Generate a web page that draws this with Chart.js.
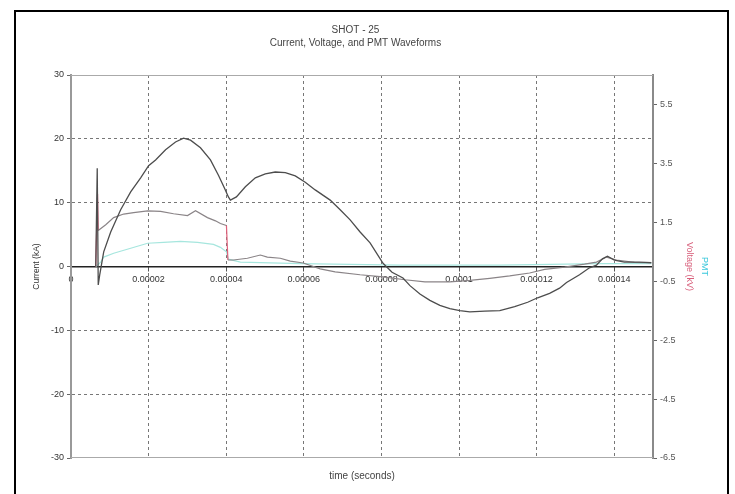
<!DOCTYPE html>
<html>
<head>
<meta charset="utf-8">
<script src="https://cdn.jsdelivr.net/npm/chart.js@4/dist/chart.umd.min.js"></script>
<style>
  html, body { margin: 0; padding: 0; background: #fff; }
  #wrap { width: 735px; height: 494px; position: relative; }
</style>
</head>
<body>
<div id="wrap"><canvas id="chart"></canvas></div>
<script>
// times are read in microseconds, converted to seconds below
const currentTime = [6.38, 6.76, 7.02, 7.40, 8.43, 10.23, 12.80, 15.38, 17.95, 20.00, 21.80, 24.37, 26.94, 29.00, 30.80, 33.37, 35.94, 38.00, 39.54, 40.57, 41.08, 42.63, 44.94, 47.51, 50.08, 52.65, 55.23, 57.80, 60.37, 62.94, 66.80, 69.37, 71.94, 74.51, 77.08, 80.42, 82.74, 85.56, 87.36, 89.93, 92.50, 95.07, 97.64, 100.21, 102.78, 106.64, 110.50, 114.35, 117.70, 120.27, 123.35, 125.92, 127.72, 131.06, 133.63, 135.43, 136.97, 138.26, 140.06, 142.63, 146.48, 149.57];
const currentKA = [0, 15.4, -2.9, -1.3, 2.3, 5.4, 8.9, 11.7, 13.9, 15.8, 16.7, 18.3, 19.5, 20.1, 19.8, 18.6, 16.7, 14.3, 12.3, 10.9, 10.4, 10.9, 12.5, 13.9, 14.5, 14.8, 14.7, 14.2, 13.2, 12.0, 10.4, 8.9, 7.3, 5.4, 3.7, 0.5, -0.9, -1.8, -3.0, -4.3, -5.3, -6.1, -6.6, -6.9, -7.1, -7.0, -6.9, -6.3, -5.6, -4.9, -4.2, -3.4, -2.5, -1.3, -0.2, 0.2, 1.2, 1.6, 1.0, 0.7, 0.7, 0.6];

const voltageTime = [6.38, 6.84, 7.02, 8.95, 11.00, 13.57, 16.14, 19.75, 23.09, 26.43, 30.03, 32.09, 35.17, 37.23, 38.51, 40.06, 40.44, 41.86, 45.46, 48.80, 50.60, 53.94, 56.51, 59.85, 64.22, 68.08, 74.51, 80.42, 86.08, 91.22, 97.64, 102.78, 107.92, 113.07, 118.21, 122.07, 127.21, 132.35, 135.43, 138.00, 140.57, 145.20, 149.57];
const voltageKV = [0, 2.46, 1.22, 1.42, 1.66, 1.78, 1.83, 1.89, 1.87, 1.79, 1.73, 1.89, 1.66, 1.55, 1.46, 1.39, 0.22, 0.22, 0.28, 0.39, 0.32, 0.28, 0.18, 0.12, -0.08, -0.18, -0.28, -0.35, -0.45, -0.52, -0.52, -0.47, -0.40, -0.32, -0.22, -0.10, -0.02, 0.08, 0.15, 0.32, 0.22, 0.14, 0.12];

const pmtTime = [6.38, 7.66, 8.43, 11.00, 15.38, 19.75, 23.86, 28.23, 32.60, 36.71, 38.51, 40.06, 40.57, 43.65, 59.07, 84.79, 110.50, 136.20, 149.57];
const pmtV = [0, 0.15, 0.32, 0.45, 0.62, 0.79, 0.82, 0.85, 0.82, 0.75, 0.65, 0.50, 0.25, 0.15, 0.10, 0.05, 0.05, 0.10, 0.10];

const xTicks = [0, 0.00002, 0.00004, 0.00006, 0.00008, 0.0001, 0.00012, 0.00014];
const rightTicks = [-6.5, -4.5, -2.5, -0.5, 1.5, 3.5, 5.5];

const fontFam = "'Liberation Sans', Arial, sans-serif";

function toPoints(times, values) {
  return times.map((t, i) => ({ x: t * 1e-6, y: values[i] }));
}

// outer frame and plot-area box
const framePlugin = {
  id: "frame",
  beforeDatasetsDraw(chart) {
    const { ctx, chartArea: a } = chart;
    ctx.save();
    ctx.strokeStyle = "#aaa";
    ctx.lineWidth = 1;
    ctx.beginPath();
    ctx.moveTo(a.left, a.top + 0.5);
    ctx.lineTo(a.right, a.top + 0.5);
    ctx.moveTo(a.left, a.bottom - 0.5);
    ctx.lineTo(a.right, a.bottom - 0.5);
    ctx.stroke();
    ctx.restore();
  },
  afterDraw(chart) {
    const ctx = chart.ctx;
    ctx.save();
    ctx.strokeStyle = "#000";
    ctx.lineWidth = 2;
    ctx.strokeRect(15, 11, 713, 500);
    ctx.restore();
  },
};

new Chart(document.getElementById("chart"), {
  type: "scatter",
  data: {
    datasets: [
      {
        label: "Current",
        data: toPoints(currentTime, currentKA),
        showLine: true,
        borderColor: "#4d4d4d",
        borderWidth: 1.3,
        pointRadius: 0,
        yAxisID: "y",
      },
      {
        label: "Voltage",
        data: toPoints(voltageTime, voltageKV),
        showLine: true,
        borderColor: "#8a8487",
        borderWidth: 1.2,
        pointRadius: 0,
        yAxisID: "y1",
        segment: {
          borderColor: (c) =>
            Math.abs(c.p1.y - c.p0.y) > 3 * Math.abs(c.p1.x - c.p0.x) + 8 ? "#e0607a" : undefined,
        },
      },
      {
        label: "PMT",
        data: toPoints(pmtTime, pmtV),
        showLine: true,
        borderColor: "#a6e6de",
        borderWidth: 1.2,
        pointRadius: 0,
        yAxisID: "y1",
      },
    ],
  },
  options: {
    responsive: true,
    maintainAspectRatio: false,
    animation: false,
    layout: { padding: { left: 0, right: 24, top: 0, bottom: 0 } },
    plugins: {
      legend: { display: false },
      tooltip: { enabled: false },
      title: {
        display: true,
        text: ["SHOT - 25", "Current, Voltage, and PMT Waveforms"],
        color: "#444",
        font: { family: fontFam, size: 10, weight: "normal", lineHeight: 1.3 },
        padding: { top: 23.5, bottom: 25.5 },
      },
    },
    scales: {
      x: {
        type: "linear",
        position: { y: 0 },
        min: 0,
        max: 0.00015,
        afterBuildTicks: (s) => { s.ticks = xTicks.map((v) => ({ value: v })); },
        ticks: {
          color: "#333",
          font: { family: fontFam, size: 9 },
          padding: 4,
          maxRotation: 0,
          callback: (v) => String(parseFloat(Number(v).toFixed(6))),
        },
        grid: {
          color: (c) => (c.tick && c.tick.value === 0 ? "rgba(0,0,0,0)" : "#777"),
          tickLength: 4,
          tickColor: "#555",
        },
        border: { color: "#222", width: 1.5, dash: [3, 3] },
      },
      x2: {
        type: "linear",
        position: "bottom",
        min: 0,
        max: 1,
        ticks: { display: false },
        grid: { display: false },
        border: { display: false },
        title: {
          display: true,
          text: "time (seconds)",
          color: "#444",
          font: { family: fontFam, size: 10 },
          padding: { top: 0, bottom: 12 },
        },
        afterFit: (s) => { s.height = 36; },
      },
      y: {
        type: "linear",
        position: "left",
        min: -30,
        max: 30,
        ticks: {
          stepSize: 10,
          color: "#333",
          font: { family: fontFam, size: 9 },
          padding: 3,
        },
        grid: {
          color: (c) =>
            c.tick && (c.tick.value === 0 || Math.abs(c.tick.value) === 30) ? "rgba(0,0,0,0)" : "#777",
          tickLength: 4,
          tickColor: "#666",
        },
        border: { color: "#999", width: 2, dash: [3, 3] },
        title: {
          display: true,
          text: "Current (kA)",
          color: "#333",
          font: { family: fontFam, size: 8.5 },
          padding: { top: 32, bottom: 0 },
        },
        afterFit: (s) => { s.width = 71; },
      },
      y1: {
        type: "linear",
        position: "right",
        min: -6.5,
        max: 6.5,
        afterBuildTicks: (s) => { s.ticks = rightTicks.map((v) => ({ value: v })); },
        ticks: {
          color: "#555",
          font: { family: fontFam, size: 9 },
          padding: 3,
          callback: (v) => Number(v).toFixed(1),
        },
        grid: { drawOnChartArea: false, tickLength: 4, color: "#666" },
        border: { color: "#8a8a8a", width: 2 },
        title: {
          display: true,
          text: "Voltage (kV)",
          color: "#d8607c",
          font: { family: fontFam, size: 9 },
          padding: { top: 2, bottom: 0 },
        },
        afterFit: (s) => { s.width = 44; },
      },
      y2: {
        type: "linear",
        position: "right",
        min: 0,
        max: 1,
        ticks: { display: false },
        grid: { display: false },
        border: { display: false },
        title: {
          display: true,
          text: "PMT",
          color: "#3cc8dc",
          font: { family: fontFam, size: 9 },
          padding: { top: 1, bottom: 0 },
        },
        afterFit: (s) => { s.width = 14; },
      },
    },
  },
  plugins: [framePlugin],
});
</script>
</body>
</html>
